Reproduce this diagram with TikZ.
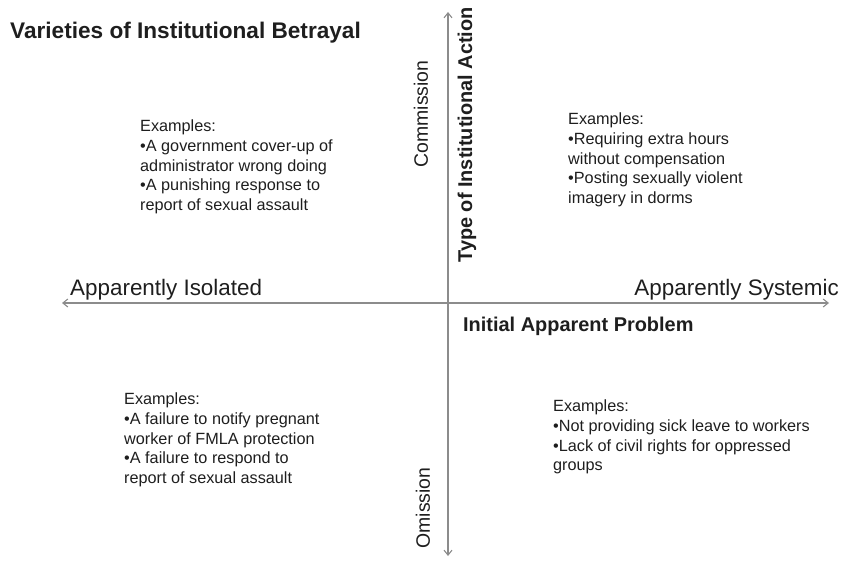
\documentclass[tikz,border=0pt]{standalone}
\usepackage{fontspec}
\setmainfont{Liberation Sans}
\usepackage{xcolor}
\usetikzlibrary{arrows.meta,positioning}
\definecolor{axisgray}{HTML}{8C8C8C}
\definecolor{ink}{HTML}{1E1E1E}
\tikzset{
  axis/.style={draw=axisgray,line width=1.1pt,{Straight Barb[length=5pt,width=8pt]}-{Straight Barb[length=5pt,width=8pt]}},
  pole/.style={font=\fontsize{22.5}{26}\selectfont,text=ink,inner sep=0pt},
  vpole/.style={font=\fontsize{19.5}{23}\selectfont,text=ink,inner sep=0pt,rotate=90},
  dimlabel/.style={font=\bfseries\fontsize{20}{24}\selectfont,text=ink,inner sep=0pt},
  examples/.style={font=\fontsize{16.3}{19.6}\selectfont,text=ink,align=left,inner sep=0pt,anchor=north west}
}

\begin{document}
\begin{tikzpicture}[x=1bp,y=-1bp]
  \useasboundingbox (0,0) rectangle (844,565);
  \coordinate (top) at (448,12); \coordinate (bottom) at (448,556);
  \coordinate (left) at (62,303); \coordinate (right) at (829,303);
  \draw[axis] (bottom)--(top);
  \draw[axis] (left)--(right);
  \node[font=\bfseries\fontsize{22.7}{26}\selectfont,text=ink,inner sep=0pt,anchor=west] (title) at (10,33) {Varieties of Institutional Betrayal};
  \node[vpole] (commission) at (421,114) {Commission};
  \node[vpole] (omission) at (423,508) {Omission};
  \node[dimlabel,rotate=90] (action) at (467,135) {Type of Institutional Action};
  \node[pole,anchor=west] (isolated) at (70,290) {Apparently Isolated};
  \node[pole,anchor=east] (systemic) at (839,290) {Apparently Systemic};
  \node[dimlabel,anchor=west] (problem) at (463,326) {Initial Apparent Problem};
  \node[examples] (exTL) at (140,120) {Examples:\\\textbullet A government cover-up of\\administrator wrong doing\\\textbullet A punishing response to\\report of sexual assault};
  \node[examples] (exTR) at (568,113) {Examples:\\\textbullet Requiring extra hours\\without compensation\\\textbullet Posting sexually violent\\imagery in dorms};
  \node[examples] (exBL) at (124,393) {Examples:\\\textbullet A failure to notify pregnant\\worker of FMLA protection\\\textbullet A failure to respond to\\report of sexual assault};
  \node[examples] (exBR) at (553,400) {Examples:\\\textbullet Not providing sick leave to workers\\\textbullet Lack of civil rights for oppressed\\groups};
\end{tikzpicture}
\end{document}
